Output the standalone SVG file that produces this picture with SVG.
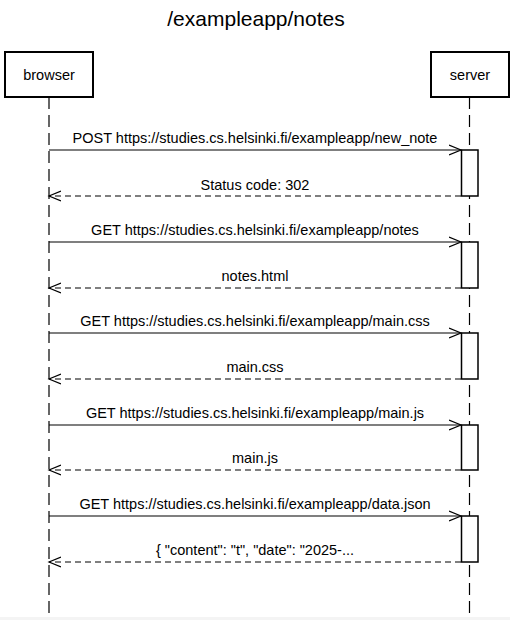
<svg xmlns="http://www.w3.org/2000/svg" width="510" height="620" viewBox="0 0 510 620">
  <style>
    text { font-family: "Liberation Sans", Arial, sans-serif; fill: #000; }
    .title { font-size: 21px; text-anchor: middle; }
    .actor { font-size: 14.5px; text-anchor: middle; }
    .msg { font-size: 14.5px; text-anchor: middle; }
    .box { fill: #fff; stroke: #000; stroke-width: 2; }
    .life { stroke: #000; stroke-width: 1.2; stroke-dasharray: 12,6; fill: none; }
    .act { fill: #fff; stroke: #000; stroke-width: 1.5; }
    .call { stroke: #000; stroke-width: 1.2; fill: none; marker-end: url(#open); }
    .ret { stroke: #000; stroke-width: 1.2; fill: none; stroke-dasharray: 6,4; marker-end: url(#open); }
  </style>
  <defs>
    <marker id="open" markerWidth="14" markerHeight="12" refX="12" refY="6" orient="auto" markerUnits="userSpaceOnUse">
      <path d="M0,1 L12,6 L0,11" fill="none" stroke="#000" stroke-width="1.2"/>
    </marker>
  </defs>
  <rect x="0" y="0" width="510" height="620" fill="#fff"/>
  <rect x="0" y="617" width="510" height="3" fill="#f4f4f4"/>
  <text class="title" x="256" y="26">/exampleapp/notes</text>

  <g id="lifelines">
    <line class="life" x1="49" y1="97" x2="49" y2="613"/>
    <line class="life" x1="469.5" y1="97" x2="469.5" y2="613"/>
  </g>

  <g id="browser">
    <rect class="box" x="5" y="52" width="88" height="45"/>
    <text class="actor" x="49" y="80">browser</text>
  </g>
  <g id="server">
    <rect class="box" x="431" y="52" width="78" height="45"/>
    <text class="actor" x="470" y="80">server</text>
  </g>

  <g id="activations">
    <rect class="act" x="461.5" y="150" width="16.5" height="46"/>
    <rect class="act" x="461.5" y="242" width="16.5" height="46"/>
    <rect class="act" x="461.5" y="333" width="16.5" height="46"/>
    <rect class="act" x="461.5" y="425" width="16.5" height="45"/>
    <rect class="act" x="461.5" y="516" width="16.5" height="46"/>
  </g>

  <g id="connectors">
    <line class="call" x1="49" y1="150" x2="461" y2="150"/>
    <line class="ret" x1="461" y1="196" x2="49" y2="196"/>
    <line class="call" x1="49" y1="242" x2="461" y2="242"/>
    <line class="ret" x1="461" y1="288" x2="49" y2="288"/>
    <line class="call" x1="49" y1="333" x2="461" y2="333"/>
    <line class="ret" x1="461" y1="379" x2="49" y2="379"/>
    <line class="call" x1="49" y1="425" x2="461" y2="425"/>
    <line class="ret" x1="461" y1="470" x2="49" y2="470"/>
    <line class="call" x1="49" y1="516" x2="461" y2="516"/>
    <line class="ret" x1="461" y1="562" x2="49" y2="562"/>
  </g>

  <g id="labels">
    <text class="msg" x="255" y="143">POST https://studies.cs.helsinki.fi/exampleapp/new_note</text>
    <text class="msg" x="255" y="190">Status code: 302</text>
    <text class="msg" x="255" y="235">GET https://studies.cs.helsinki.fi/exampleapp/notes</text>
    <text class="msg" x="255" y="281">notes.html</text>
    <text class="msg" x="255" y="326">GET https://studies.cs.helsinki.fi/exampleapp/main.css</text>
    <text class="msg" x="255" y="372">main.css</text>
    <text class="msg" x="255" y="418">GET https://studies.cs.helsinki.fi/exampleapp/main.js</text>
    <text class="msg" x="255" y="463">main.js</text>
    <text class="msg" x="255" y="509">GET https://studies.cs.helsinki.fi/exampleapp/data.json</text>
    <text class="msg" x="255" y="555">{ "content": "t", "date": "2025-...</text>
  </g>
</svg>
